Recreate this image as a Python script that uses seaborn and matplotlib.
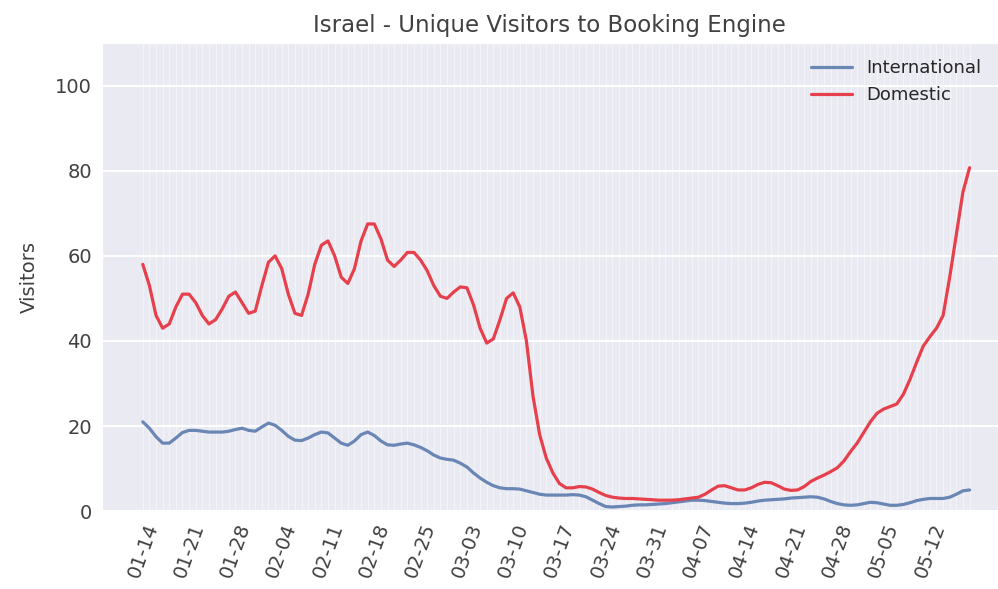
import numpy as np
import pandas as pd
import matplotlib
matplotlib.use('Agg')
import matplotlib.pyplot as plt
import matplotlib.dates as mdates
import seaborn as sns

# ---- data (daily, 2020-01-14 .. 2020-05-18) ----
start_date = '2020-01-14'

domestic = [58, 53, 46, 43, 44, 48, 51, 51, 49, 46,
            44, 45, 47.5, 50.5, 51.5, 49, 46.5, 47, 53, 58.5,
            60, 57, 51, 46.5, 46, 51, 58, 62.5, 63.5, 60,
            55, 53.5, 57, 63.5, 67.5, 67.5, 64, 59, 57.5, 59,
            60.8, 60.8, 59, 56.5, 53, 50.5, 50, 51.5, 52.7, 52.5,
            48.5, 43, 39.5, 40.5, 45, 50, 51.3, 48, 40, 27,
            18, 12.5, 9, 6.5, 5.5, 5.5, 5.8, 5.7, 5.2, 4.4,
            3.7, 3.3, 3.1, 3, 3, 2.9, 2.8, 2.7, 2.6, 2.6,
            2.6, 2.7, 2.9, 3.1, 3.3, 4, 5, 5.9, 6, 5.5,
            5, 5, 5.5, 6.3, 6.8, 6.7, 6, 5.2, 4.9, 5,
            5.8, 7, 7.8, 8.5, 9.3, 10.2, 11.8, 14, 16, 18.5,
            21, 23, 24, 24.6, 25.2, 27.5, 31, 35, 38.8, 41,
            43, 46, 55, 65, 75, 80.7]

international = [21, 19.5, 17.5, 16, 16, 17.2, 18.5, 19, 19, 18.8,
                 18.6, 18.6, 18.6, 18.8, 19.2, 19.5, 19, 18.8, 19.8, 20.7,
                 20.2, 19, 17.6, 16.7, 16.6, 17.2, 18, 18.6, 18.4, 17.2,
                 16, 15.5, 16.5, 18, 18.6, 17.8, 16.5, 15.6, 15.5, 15.8,
                 16, 15.6, 15, 14.2, 13.2, 12.5, 12.2, 12, 11.3, 10.4,
                 9, 7.8, 6.8, 6, 5.5, 5.3, 5.3, 5.2, 4.8, 4.4,
                 4, 3.8, 3.8, 3.8, 3.8, 3.9, 3.8, 3.4, 2.6, 1.8,
                 1.1, 1, 1.1, 1.2, 1.4, 1.5, 1.5, 1.6, 1.7, 1.8,
                 2, 2.2, 2.4, 2.6, 2.6, 2.5, 2.3, 2.1, 1.9, 1.8,
                 1.8, 1.9, 2.1, 2.4, 2.6, 2.7, 2.8, 2.9, 3.1, 3.2,
                 3.3, 3.4, 3.3, 2.9, 2.3, 1.8, 1.5, 1.4, 1.5, 1.8,
                 2.1, 2, 1.7, 1.4, 1.4, 1.6, 2, 2.5, 2.8, 3,
                 3, 3, 3.3, 4, 4.8, 5]

dates = pd.date_range(start_date, periods=len(domestic), freq='D')

df = pd.DataFrame({'date': np.concatenate([dates, dates]),
                   'visitors': international + domestic,
                   'segment': ['International'] * len(dates) + ['Domestic'] * len(dates)})

# ---- plot ----
sns.set_style('darkgrid', {'axes.facecolor': '#eaeaf2'})
plt.rcParams['font.family'] = ['DejaVu Sans']

fig = plt.figure(figsize=(9.98, 5.89), dpi=100)
ax = fig.add_axes([0.102, 0.132, 0.898, 0.795])

palette = {'International': '#6a86b4', 'Domestic': '#e6404c'}
sns.lineplot(data=df, x='date', y='visitors', hue='segment', palette=palette,
             linewidth=2.3, ax=ax)

ax.set_ylim(0, 110)
ax.set_yticks([0, 20, 40, 60, 80, 100])
ax.set_xlim(dates[0] - pd.Timedelta(days=6.2), dates[0] + pd.Timedelta(days=129.3))

week_ticks = pd.date_range(start_date, '2020-05-12', freq='7D')
ax.set_xticks(week_ticks)
ax.set_xticks(dates, minor=True)
ax.xaxis.set_major_formatter(mdates.DateFormatter('%m-%d'))
ax.grid(True, which='minor', axis='x', color='white', linewidth=0.6, alpha=0.6)
ax.grid(True, which='major', axis='x', color='white', linewidth=0.6, alpha=0.6)
ax.grid(True, which='major', axis='y', color='white', linewidth=1.4)
ax.tick_params(axis='x', which='minor', length=0)
plt.setp(ax.get_xticklabels(), rotation=70, fontsize=14, color='.25')
plt.setp(ax.get_yticklabels(), fontsize=14, color='.25')

ax.set_xlabel('')
ax.set_ylabel('Visitors', fontsize=14, color='.25', labelpad=12)
ax.set_title('Israel - Unique Visitors to Booking Engine', fontsize=16.5, color='.25', pad=8)

leg = ax.legend(loc='upper right', fontsize=13, frameon=False, handlelength=2.3)

fig.savefig('out.png', dpi=100)
